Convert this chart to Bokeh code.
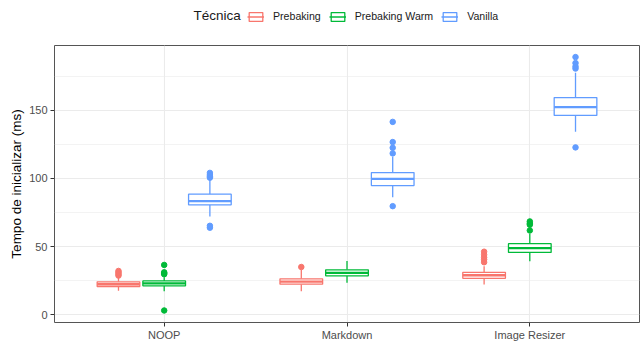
from bokeh.plotting import figure
from bokeh.layouts import column
from bokeh.models import ColumnDataSource, Legend, LegendItem, FixedTicker, Range1d
from bokeh.core.properties import value
from bokeh.embed import file_html
from bokeh.resources import INLINE

categories = ["NOOP", "Markdown", "Image Resizer"]
techniques = ["Prebaking", "Prebaking Warm", "Vanilla"]
colors = ["#F8766D", "#00BA38", "#619CFF"]
legend_title = "Técnica"
y_title = "Tempo de inicializar (ms)"

# Box statistics per technique, in category order (ms)
prebaking_lower = [17.5, 17.3, 22.1]
prebaking_q1 = [20.7, 22.4, 26.7]
prebaking_median = [22.4, 24.3, 28.9]
prebaking_q3 = [24.1, 26.3, 31.1]
prebaking_upper = [27.5, 33.0, 35.5]
prebaking_outliers = [[28.7, 29.8, 31.0, 32.1], [35.0], [38.5, 40.5, 42.0, 44.0, 46.2]]

warm_lower = [17.2, 23.4, 39.2]
warm_q1 = [21.2, 28.5, 45.7]
warm_median = [23.0, 30.7, 48.8]
warm_q3 = [24.8, 32.9, 52.1]
warm_upper = [27.5, 39.4, 59.4]
warm_outliers = [[3.1, 29.7, 30.4, 31.1, 36.5], [], [61.8, 66.0, 67.0, 68.4]]

vanilla_lower = [72.0, 86.2, 134.1]
vanilla_q1 = [80.6, 94.7, 146.1]
vanilla_median = [83.3, 99.6, 152.2]
vanilla_q3 = [88.4, 104.2, 159.2]
vanilla_upper = [98.8, 115.9, 177.5]
vanilla_outliers = [[63.8, 65.2, 100.5, 101.5, 102.5, 104.0],
                    [79.6, 118.3, 122.4, 126.6, 141.4],
                    [122.7, 180.5, 182.0, 184.5, 188.9]]

y_ticks = [0, 50, 100, 150]
y_minor = [25, 75, 125, 175]

stats = [
    (prebaking_lower, prebaking_q1, prebaking_median, prebaking_q3, prebaking_upper, prebaking_outliers),
    (warm_lower, warm_q1, warm_median, warm_q3, warm_upper, warm_outliers),
    (vanilla_lower, vanilla_q1, vanilla_median, vanilla_q3, vanilla_upper, vanilla_outliers),
]

FONT = "Liberation Sans"
DODGE = 0.25
HALF = 0.7 / 3 / 2

# ---------- main panel ----------
p = figure(width=644, height=303, output_backend="svg", toolbar_location=None,
           x_range=Range1d(0.4, 3.6), y_range=Range1d(-5.7, 197.4),
           min_border_left=54, min_border_right=5, min_border_top=5, min_border_bottom=20,
           background_fill_color="white", border_fill_color="white")

for j, (tech, col, st) in enumerate(zip(techniques, colors, stats)):
    lo, q1, med, q3, up, outs = st
    xs = [i + 1 + (j - 1) * DODGE for i in range(len(categories))]
    src = ColumnDataSource(dict(
        x=xs, left=[x - HALF for x in xs], right=[x + HALF for x in xs],
        lo=lo, q1=q1, med=med, q3=q3, up=up))
    p.segment(x0="x", y0="lo", x1="x", y1="q1", source=src, line_color=col, line_width=1.3)
    p.segment(x0="x", y0="q3", x1="x", y1="up", source=src, line_color=col, line_width=1.3)
    p.quad(left="left", right="right", bottom="q1", top="q3", source=src,
           fill_color="white", line_color=col, line_width=1.3)
    p.segment(x0="left", y0="med", x1="right", y1="med", source=src,
              line_color=col, line_width=2.4)
    ox, oy = [], []
    for x, o in zip(xs, outs):
        ox += [x] * len(o)
        oy += o
    p.scatter(ox, oy, size=5.5, fill_color=col, line_color=col)

p.xaxis.ticker = FixedTicker(ticks=[1, 2, 3])
p.xaxis.major_label_overrides = {1: categories[0], 2: categories[1], 3: categories[2]}
p.yaxis.ticker = FixedTicker(ticks=y_ticks, minor_ticks=y_minor)

for ax in (p.xaxis, p.yaxis):
    ax.axis_line_color = None
    ax.minor_tick_line_color = None
    ax.major_tick_in = 0
    ax.major_tick_out = 4
    ax.major_tick_line_color = "#333333"
    ax.major_label_text_font = FONT
    ax.major_label_text_font_size = "11px"
    ax.major_label_text_color = "#4D4D4D"
    ax.major_label_standoff = 3
p.xaxis.major_label_standoff = 2

p.yaxis.axis_label = y_title
p.yaxis.axis_label_text_font = FONT
p.yaxis.axis_label_text_font_size = "13.5px"
p.yaxis.axis_label_text_font_style = "normal"
p.yaxis.axis_label_text_color = "black"
p.yaxis.axis_label_standoff = 2

p.xgrid.grid_line_color = "#EBEBEB"
p.xgrid.grid_line_width = 1.1
p.ygrid.grid_line_color = "#EBEBEB"
p.ygrid.grid_line_width = 1.1
p.ygrid.minor_grid_line_color = "#EBEBEB"
p.ygrid.minor_grid_line_width = 0.6

p.outline_line_color = "#555555"
p.outline_line_width = 1

# ---------- legend strip (frame is aligned with the main panel: x 54..639) ----------
top = figure(width=644, height=40, output_backend="svg", toolbar_location=None,
             x_range=Range1d(54, 639), y_range=Range1d(0, 40),
             x_axis_type=None, y_axis_type=None,
             min_border_left=54, min_border_right=5, min_border_top=0, min_border_bottom=0,
             background_fill_color="white", border_fill_color="white")
top.grid.visible = False
top.outline_line_color = None

items = []
for tech, col in zip(techniques, colors):
    b = top.quad(left=[-100], right=[-90], bottom=[-100], top=[-90], fill_color="white",
                 line_color=col, line_width=1.3)
    m = top.segment(x0=[-100], y0=[-100], x1=[-90], y1=[-100], line_color=col, line_width=1.5)
    items.append(LegendItem(label=tech, renderers=[b, m]))

top.text(x=[193], y=[25], text=[legend_title], text_font=value(FONT),
         text_font_size="13.5px", text_color="#1A1A1A",
         text_baseline="middle", text_align="left")

legend = Legend(items=items, orientation="horizontal", location=(193, 18),
                label_text_font=FONT, label_text_font_size="10.6px", label_text_color="#1A1A1A",
                glyph_width=17, glyph_height=11, label_standoff=9, spacing=8,
                label_height=11, padding=1, margin=0, border_line_color=None,
                background_fill_alpha=0)
top.add_layout(legend, "center")

layout = column(top, p, spacing=0)
open("out.html", "w").write(file_html(layout, INLINE))
